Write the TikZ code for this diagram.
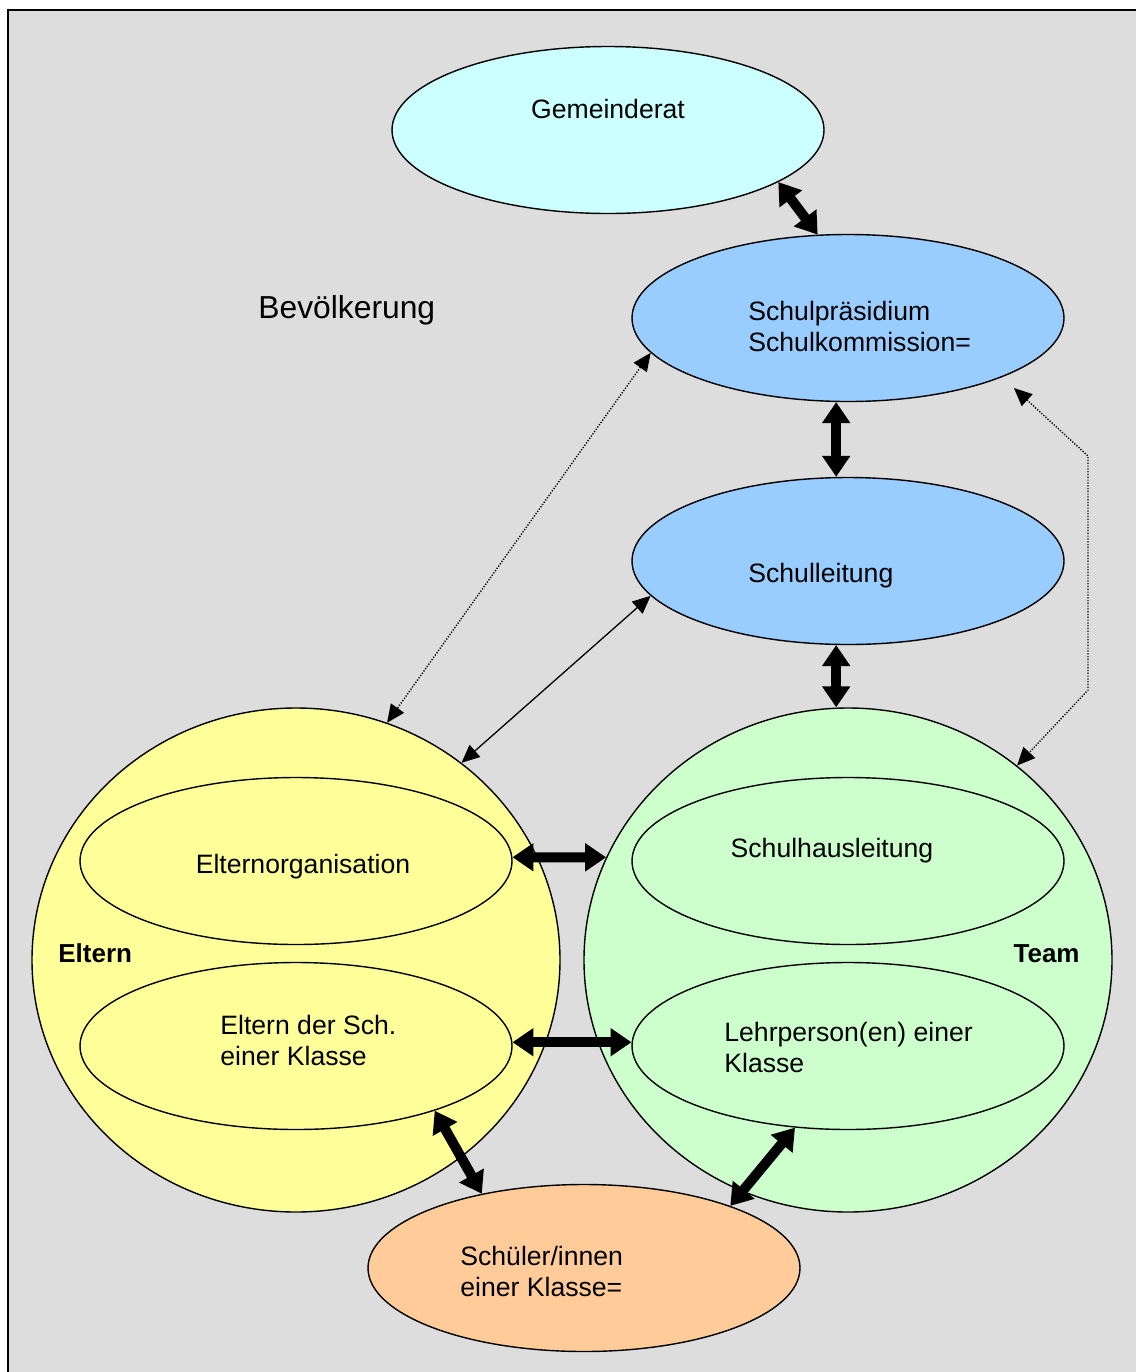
\documentclass[tikz,border=0pt]{standalone}
\usepackage{fontspec}
\setmainfont{Liberation Sans}
\usetikzlibrary{shapes.geometric,arrows.meta}
\definecolor{bg}{RGB}{221,221,221}
\definecolor{cyanfill}{RGB}{204,255,255}
\definecolor{bluefill}{RGB}{153,204,255}
\definecolor{yellowfill}{RGB}{255,255,153}
\definecolor{greenfill}{RGB}{204,255,204}
\definecolor{orangefill}{RGB}{255,204,153}
\begin{document}
\begin{tikzpicture}[x=0.5pt,y=-0.5pt,
  bub/.style={draw,ellipse,inner sep=0pt,line width=0.7pt,minimum width=216pt,minimum height=83.5pt},
  big/.style={draw,ellipse,inner sep=0pt,line width=0.7pt,minimum width=264pt,minimum height=252pt},
  txt/.style={font=\fontsize{13.3}{16}\selectfont,inner sep=0pt,anchor=base west},
  btxt/.style={font=\fontsize{13}{16}\selectfont\bfseries,inner sep=0pt},
  bigarrow/.style={line width=5pt,{Triangle[length=10.5pt,width=13.5pt]}-{Triangle[length=10.5pt,width=13.5pt]}},
  thinarrow/.style={line width=0.65pt,{Triangle[length=9pt,width=8pt]}-{Triangle[length=9pt,width=8pt]}},
  dotarrow/.style={line width=0.7pt,dash pattern=on 0.6pt off 0.8pt,{Triangle[length=9pt,width=8pt]}-{Triangle[length=9pt,width=8pt]}}]
\useasboundingbox (0,0) rectangle (1136,1372);
\fill[white] (0,0) rectangle (1136,1372);
\draw[fill=bg,line width=1pt] (8,10) rectangle (1150,1390);

% big circles
\node[big,fill=yellowfill] (eltern) at (296,960) {};
\node[big,fill=greenfill] (team) at (848,960) {};

% ellipses
\node[bub,fill=cyanfill] (gem) at (608,130) {};
\node[bub,fill=bluefill] (sp) at (848,318) {};
\node[bub,fill=bluefill] (sl) at (848,561) {};
\node[bub,fill=yellowfill] (eo) at (296,861) {};
\node[bub,fill=yellowfill] (eds) at (296,1046) {};
\node[bub,fill=greenfill] (shl) at (848,861) {};
\node[bub,fill=greenfill] (lp) at (848,1046) {};
\node[bub,fill=orangefill] (sch) at (584,1268) {};

% texts
\node[txt,anchor=base] (tgem) at (608,118) {Gemeinderat};
\node[txt] (tsp1) at (748,320) {Schulpräsidium};
\node[txt] (tsp2) at (748,351) {Schulkommission=};
\node[txt] (tsl) at (748,582) {Schulleitung};
\node[txt,font=\fontsize{15.9}{19}\selectfont] (tbev) at (258,318) {Bevölkerung};
\node[txt,anchor=base] (teo) at (303,873) {Elternorganisation};
\node[txt] (teds1) at (220,1034) {Eltern der Sch.};
\node[txt] (teds2) at (220,1065) {einer Klasse};
\node[txt,anchor=base] (tshl) at (832,857) {Schulhausleitung};
\node[txt] (tlp1) at (724,1041) {Lehrperson(en) einer};
\node[txt] (tlp2) at (724,1072) {Klasse};
\node[txt] (tsch1) at (460,1265) {Schüler/innen};
\node[txt] (tsch2) at (460,1296) {einer Klasse=};
\node[btxt,anchor=base west] (tel) at (58,962) {Eltern};
\node[btxt,anchor=base east] (tteam) at (1080,962) {Team};

% thick arrows
\draw[bigarrow] (gem.-17) -- (sp.110);
\draw[bigarrow] (sp.-98) -- (sp.-98 |- sl.north);
\draw[bigarrow] (sl.-98) -- (sl.-98 |- team.north);
\draw[bigarrow] (eo.1) -- (team.157);
\draw[bigarrow] (eds.1) -- (lp.179);
\draw[bigarrow] (eds.-25) -- (sch.144);
\draw[bigarrow] (lp.-123) -- (sch.23);

% thin arrows
\draw[thinarrow] (sl.-170) -- (eltern.50);
\draw[dotarrow] (sp.-170) -- (eltern.69);
\coordinate (r1) at (1088,456);
\coordinate (r2) at (1088,690);
\draw[dotarrow,shorten <=8pt] (sp.-21) -- (r1) -- (r2) -- (team.49);
\end{tikzpicture}
\end{document}
